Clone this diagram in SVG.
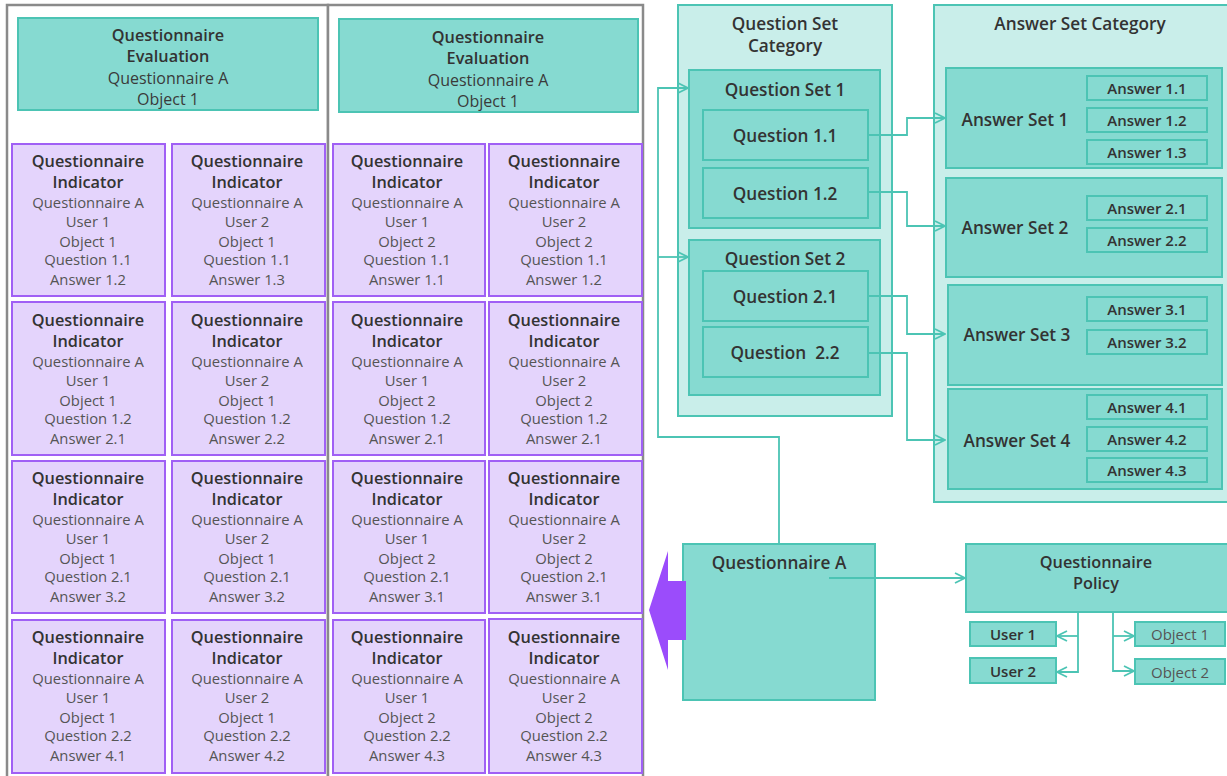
<svg xmlns="http://www.w3.org/2000/svg" width="1227" height="776" viewBox="0 0 1227 776">
<style>
.frame{fill:#fff;stroke:#8a8a8a;stroke-width:2.5}
.teal{fill:#86dad1;stroke:#4cc4b4;stroke-width:2}
.cat{fill:#c9eeea;stroke:#4cc4b4;stroke-width:2}
.cell{fill:#e4d4fc;stroke:#a060f5;stroke-width:2}
.t{font-family:"Open Sans","Liberation Sans",sans-serif;text-anchor:middle;dominant-baseline:central}
.b{font-weight:600;font-size:16.3px;fill:#333}
.r{font-weight:600;font-size:17.2px;fill:#333}
.n{font-size:16px;fill:#3a3a3a}
.g{font-size:14.8px;fill:#555}
.s{font-weight:600;font-size:15px;fill:#333}
.o{font-size:15px;fill:#555}
.conn{fill:none;stroke:#4cc4b4;stroke-width:1.8}
</style>
<defs>
<marker id="arr" markerWidth="12" markerHeight="12" refX="11" refY="6" orient="auto" markerUnits="userSpaceOnUse">
<path d="M1,1 L11,6 L1,11" fill="none" stroke="#4cc4b4" stroke-width="1.8"/>
</marker>
</defs>

<g id="frame1"><rect class="frame" x="7" y="5" width="321" height="780"/></g>
<g id="frame2"><rect class="frame" x="328" y="5" width="315" height="780"/></g>

<g id="eval1"><rect class="teal" x="18" y="18" width="300" height="92"/>
<text class="t b" x="168" y="35">Questionnaire</text><text class="t b" x="168" y="56">Evaluation</text>
<text class="t n" x="168" y="78">Questionnaire A</text><text class="t n" x="168" y="99">Object 1</text></g>
<g id="eval2"><rect class="teal" x="339" y="19" width="299" height="93"/>
<text class="t b" x="488" y="37">Questionnaire</text><text class="t b" x="488" y="58">Evaluation</text>
<text class="t n" x="488" y="80">Questionnaire A</text><text class="t n" x="488" y="101">Object 1</text></g>

<!-- indicator cells -->
<g id="c11"><rect class="cell" x="12" y="144" width="153" height="152"/>
<text class="t b" x="88" y="161">Questionnaire</text><text class="t b" x="88" y="182">Indicator</text>
<text class="t g" x="88" y="202">Questionnaire A</text><text class="t g" x="88" y="221">User 1</text><text class="t g" x="88" y="241">Object 1</text><text class="t g" x="88" y="259">Question 1.1</text><text class="t g" x="88" y="279">Answer 1.2</text></g>
<g id="c12"><rect class="cell" x="172" y="144" width="153" height="152"/>
<text class="t b" x="247" y="161">Questionnaire</text><text class="t b" x="247" y="182">Indicator</text>
<text class="t g" x="247" y="202">Questionnaire A</text><text class="t g" x="247" y="221">User 2</text><text class="t g" x="247" y="241">Object 1</text><text class="t g" x="247" y="259">Question 1.1</text><text class="t g" x="247" y="279">Answer 1.3</text></g>
<g id="c13"><rect class="cell" x="333" y="144" width="152" height="152"/>
<text class="t b" x="407" y="161">Questionnaire</text><text class="t b" x="407" y="182">Indicator</text>
<text class="t g" x="407" y="202">Questionnaire A</text><text class="t g" x="407" y="221">User 1</text><text class="t g" x="407" y="241">Object 2</text><text class="t g" x="407" y="259">Question 1.1</text><text class="t g" x="407" y="279">Answer 1.1</text></g>
<g id="c14"><rect class="cell" x="489" y="144" width="153" height="152"/>
<text class="t b" x="564" y="161">Questionnaire</text><text class="t b" x="564" y="182">Indicator</text>
<text class="t g" x="564" y="202">Questionnaire A</text><text class="t g" x="564" y="221">User 2</text><text class="t g" x="564" y="241">Object 2</text><text class="t g" x="564" y="259">Question 1.1</text><text class="t g" x="564" y="279">Answer 1.2</text></g>

<g id="c21"><rect class="cell" x="12" y="302" width="153" height="153"/>
<text class="t b" x="88" y="320">Questionnaire</text><text class="t b" x="88" y="341">Indicator</text>
<text class="t g" x="88" y="361">Questionnaire A</text><text class="t g" x="88" y="380">User 1</text><text class="t g" x="88" y="400">Object 1</text><text class="t g" x="88" y="418">Question 1.2</text><text class="t g" x="88" y="438">Answer 2.1</text></g>
<g id="c22"><rect class="cell" x="172" y="302" width="153" height="153"/>
<text class="t b" x="247" y="320">Questionnaire</text><text class="t b" x="247" y="341">Indicator</text>
<text class="t g" x="247" y="361">Questionnaire A</text><text class="t g" x="247" y="380">User 2</text><text class="t g" x="247" y="400">Object 1</text><text class="t g" x="247" y="418">Question 1.2</text><text class="t g" x="247" y="438">Answer 2.2</text></g>
<g id="c23"><rect class="cell" x="333" y="302" width="152" height="153"/>
<text class="t b" x="407" y="320">Questionnaire</text><text class="t b" x="407" y="341">Indicator</text>
<text class="t g" x="407" y="361">Questionnaire A</text><text class="t g" x="407" y="380">User 1</text><text class="t g" x="407" y="400">Object 2</text><text class="t g" x="407" y="418">Question 1.2</text><text class="t g" x="407" y="438">Answer 2.1</text></g>
<g id="c24"><rect class="cell" x="489" y="302" width="153" height="153"/>
<text class="t b" x="564" y="320">Questionnaire</text><text class="t b" x="564" y="341">Indicator</text>
<text class="t g" x="564" y="361">Questionnaire A</text><text class="t g" x="564" y="380">User 2</text><text class="t g" x="564" y="400">Object 2</text><text class="t g" x="564" y="418">Question 1.2</text><text class="t g" x="564" y="438">Answer 2.1</text></g>

<g id="c31"><rect class="cell" x="12" y="461" width="153" height="152"/>
<text class="t b" x="88" y="478">Questionnaire</text><text class="t b" x="88" y="499">Indicator</text>
<text class="t g" x="88" y="519">Questionnaire A</text><text class="t g" x="88" y="538">User 1</text><text class="t g" x="88" y="558">Object 1</text><text class="t g" x="88" y="576">Question 2.1</text><text class="t g" x="88" y="596">Answer 3.2</text></g>
<g id="c32"><rect class="cell" x="172" y="461" width="153" height="152"/>
<text class="t b" x="247" y="478">Questionnaire</text><text class="t b" x="247" y="499">Indicator</text>
<text class="t g" x="247" y="519">Questionnaire A</text><text class="t g" x="247" y="538">User 2</text><text class="t g" x="247" y="558">Object 1</text><text class="t g" x="247" y="576">Question 2.1</text><text class="t g" x="247" y="596">Answer 3.2</text></g>
<g id="c33"><rect class="cell" x="333" y="461" width="152" height="152"/>
<text class="t b" x="407" y="478">Questionnaire</text><text class="t b" x="407" y="499">Indicator</text>
<text class="t g" x="407" y="519">Questionnaire A</text><text class="t g" x="407" y="538">User 1</text><text class="t g" x="407" y="558">Object 2</text><text class="t g" x="407" y="576">Question 2.1</text><text class="t g" x="407" y="596">Answer 3.1</text></g>
<g id="c34"><rect class="cell" x="489" y="461" width="153" height="152"/>
<text class="t b" x="564" y="478">Questionnaire</text><text class="t b" x="564" y="499">Indicator</text>
<text class="t g" x="564" y="519">Questionnaire A</text><text class="t g" x="564" y="538">User 2</text><text class="t g" x="564" y="558">Object 2</text><text class="t g" x="564" y="576">Question 2.1</text><text class="t g" x="564" y="596">Answer 3.1</text></g>

<g id="c41"><rect class="cell" x="12" y="620" width="153" height="153"/>
<text class="t b" x="88" y="637">Questionnaire</text><text class="t b" x="88" y="658">Indicator</text>
<text class="t g" x="88" y="678">Questionnaire A</text><text class="t g" x="88" y="697">User 1</text><text class="t g" x="88" y="717">Object 1</text><text class="t g" x="88" y="735">Question 2.2</text><text class="t g" x="88" y="755">Answer 4.1</text></g>
<g id="c42"><rect class="cell" x="172" y="620" width="153" height="153"/>
<text class="t b" x="247" y="637">Questionnaire</text><text class="t b" x="247" y="658">Indicator</text>
<text class="t g" x="247" y="678">Questionnaire A</text><text class="t g" x="247" y="697">User 2</text><text class="t g" x="247" y="717">Object 1</text><text class="t g" x="247" y="735">Question 2.2</text><text class="t g" x="247" y="755">Answer 4.2</text></g>
<g id="c43"><rect class="cell" x="333" y="620" width="152" height="153"/>
<text class="t b" x="407" y="637">Questionnaire</text><text class="t b" x="407" y="658">Indicator</text>
<text class="t g" x="407" y="678">Questionnaire A</text><text class="t g" x="407" y="697">User 1</text><text class="t g" x="407" y="717">Object 2</text><text class="t g" x="407" y="735">Question 2.2</text><text class="t g" x="407" y="755">Answer 4.3</text></g>
<g id="c44"><rect class="cell" x="489" y="619" width="153" height="154"/>
<text class="t b" x="564" y="637">Questionnaire</text><text class="t b" x="564" y="658">Indicator</text>
<text class="t g" x="564" y="678">Questionnaire A</text><text class="t g" x="564" y="697">User 2</text><text class="t g" x="564" y="717">Object 2</text><text class="t g" x="564" y="735">Question 2.2</text><text class="t g" x="564" y="755">Answer 4.3</text></g>

<!-- Question set category -->
<g id="qsc"><rect class="cat" x="678" y="5" width="214" height="411"/>
<text class="t r" x="785" y="23">Question Set</text><text class="t r" x="785" y="45">Category</text></g>
<g id="qs1"><rect class="teal" x="689" y="70" width="191" height="158"/>
<text class="t r" x="785" y="89">Question Set 1</text></g>
<g id="q11"><rect class="teal" x="703" y="110" width="165" height="50"/><text class="t r" x="785" y="135">Question 1.1</text></g>
<g id="q12"><rect class="teal" x="703" y="168" width="165" height="50"/><text class="t r" x="785" y="193">Question 1.2</text></g>
<g id="qs2"><rect class="teal" x="689" y="240" width="191" height="155"/>
<text class="t r" x="785" y="258">Question Set 2</text></g>
<g id="q21"><rect class="teal" x="703" y="271" width="165" height="50"/><text class="t r" x="785" y="296">Question 2.1</text></g>
<g id="q22"><rect class="teal" x="703" y="327" width="165" height="50"/><text class="t r" x="785" y="352" xml:space="preserve">Question  2.2</text></g>

<!-- Answer set category -->
<g id="asc"><rect class="cat" x="934" y="5" width="300" height="497"/>
<text class="t r" x="1080" y="23">Answer Set Category</text></g>
<g id="as1"><rect class="teal" x="946" y="68" width="276" height="100"/><text class="t r" x="1015" y="119">Answer Set 1</text>
<rect class="teal" x="1087" y="76" width="120" height="24"/><text class="t s" x="1147" y="88">Answer 1.1</text>
<rect class="teal" x="1087" y="108" width="120" height="24"/><text class="t s" x="1147" y="120">Answer 1.2</text>
<rect class="teal" x="1087" y="140" width="120" height="24"/><text class="t s" x="1147" y="152">Answer 1.3</text></g>
<g id="as2"><rect class="teal" x="946" y="178" width="276" height="99"/><text class="t r" x="1015" y="227">Answer Set 2</text>
<rect class="teal" x="1087" y="196" width="120" height="24"/><text class="t s" x="1147" y="208">Answer 2.1</text>
<rect class="teal" x="1087" y="228" width="120" height="24"/><text class="t s" x="1147" y="240">Answer 2.2</text></g>
<g id="as3"><rect class="teal" x="948" y="285" width="274" height="100"/><text class="t r" x="1017" y="334">Answer Set 3</text>
<rect class="teal" x="1087" y="297" width="120" height="24"/><text class="t s" x="1147" y="309">Answer 3.1</text>
<rect class="teal" x="1087" y="330" width="120" height="24"/><text class="t s" x="1147" y="342">Answer 3.2</text></g>
<g id="as4"><rect class="teal" x="948" y="389" width="274" height="100"/><text class="t r" x="1017" y="440">Answer Set 4</text>
<rect class="teal" x="1087" y="395" width="120" height="24"/><text class="t s" x="1147" y="407">Answer 4.1</text>
<rect class="teal" x="1087" y="427" width="120" height="24"/><text class="t s" x="1147" y="439">Answer 4.2</text>
<rect class="teal" x="1087" y="458" width="120" height="24"/><text class="t s" x="1147" y="470">Answer 4.3</text></g>

<!-- Questionnaire A and policy -->
<g id="qa"><rect class="teal" x="683" y="544" width="192" height="156"/><text class="t r" x="779" y="562">Questionnaire A</text></g>
<g id="policy"><rect class="teal" x="966" y="544" width="265" height="68"/>
<text class="t b" x="1096" y="562">Questionnaire</text><text class="t b" x="1096" y="583">Policy</text></g>
<g id="user1"><rect class="teal" x="970" y="622" width="86" height="24"/><text class="t s" x="1013" y="634">User 1</text></g>
<g id="user2"><rect class="teal" x="970" y="658" width="86" height="25"/><text class="t s" x="1013" y="671">User 2</text></g>
<g id="obj1"><rect class="teal" x="1135" y="622" width="90" height="24"/><text class="t o" x="1180" y="634">Object 1</text></g>
<g id="obj2"><rect class="teal" x="1135" y="659" width="90" height="25"/><text class="t o" x="1180" y="672">Object 2</text></g>

<!-- purple block arrow -->
<g id="bigarrow"><polygon points="686,581 668,581 668,551 649,610 668,670 668,640 686,640" fill="#9b4cfb"/></g>

<g id="connectors">
<path class="conn" d="M868,135 H907 V118 H945" marker-end="url(#arr)"/>
<path class="conn" d="M868,192 H907 V226 H945" marker-end="url(#arr)"/>
<path class="conn" d="M868,296 H907 V334 H945" marker-end="url(#arr)"/>
<path class="conn" d="M868,353 H907 V440 H945" marker-end="url(#arr)"/>
<path class="conn" d="M779,544 V437 H658 V88 H688" marker-end="url(#arr)"/>
<path class="conn" d="M658,257 H688" marker-end="url(#arr)"/>
<path class="conn" d="M829,578 H965" marker-end="url(#arr)"/>
<path class="conn" d="M1078,612 V672 H1057" marker-end="url(#arr)"/>
<path class="conn" d="M1078,636 H1057" marker-end="url(#arr)"/>
<path class="conn" d="M1113,612 V671 H1134" marker-end="url(#arr)"/>
<path class="conn" d="M1113,636 H1134" marker-end="url(#arr)"/>
</g>
</svg>
